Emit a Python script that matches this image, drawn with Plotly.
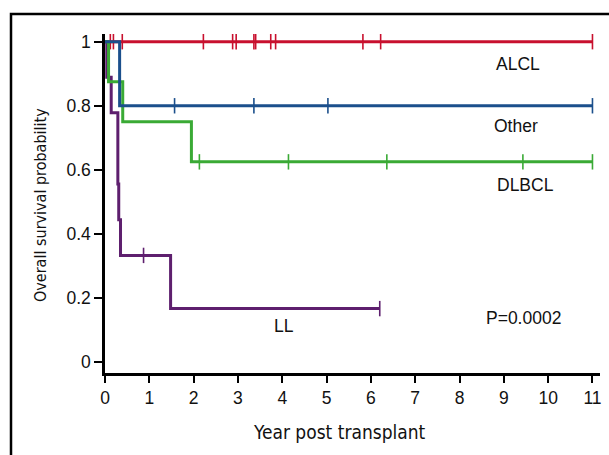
import plotly.graph_objects as go

# Kaplan-Meier step data (time in years, survival probability)
alcl_times = [0.0, 11.0]
alcl_surv = [1.0, 1.0]
alcl_censor = [0.12, 0.19, 0.39, 2.22, 2.88, 2.96, 3.36, 3.40, 3.74, 3.85, 5.82, 6.22, 11.0]

other_times = [0.0, 0.33, 11.0]
other_surv = [1.0, 0.8, 0.8]
other_censor = [1.57, 3.36, 5.03, 11.0]

dlbcl_times = [0.0, 0.08, 0.40, 1.95, 11.0]
dlbcl_surv = [1.0, 0.875, 0.75, 0.625, 0.625]
dlbcl_censor = [2.13, 4.14, 6.36, 9.43, 11.0]

ll_times = [0.0, 0.04, 0.14, 0.29, 0.31, 0.35, 1.48, 6.2]
ll_surv = [1.0, 0.889, 0.778, 0.556, 0.444, 0.333, 0.167, 0.167]
ll_censor = [0.87, 6.2]

x_ticks = list(range(0, 12))
y_ticks = [0, 0.2, 0.4, 0.6, 0.8, 1]
y_tick_labels = ["0", "0.2", "0.4", "0.6", "0.8", "1"]

labels = ["ALCL", "Other", "DLBCL", "LL"]
label_x = [9.32, 9.27, 9.50, 4.05]
label_y = [0.93, 0.737, 0.552, 0.112]

p_text = "P=0.0002"
x_title = "Year post transplant"
y_title = "Overall survival probability"

colors = {"ALCL": "#c8102e", "Other": "#1b4f8c", "DLBCL": "#3aaa35", "LL": "#5e1f6e"}


def step_value(times, surv, t):
    v = surv[0]
    for ti, si in zip(times, surv):
        if ti <= t:
            v = si
    return v


series = [
    ("ALCL", alcl_times, alcl_surv, alcl_censor),
    ("LL", ll_times, ll_surv, ll_censor),
    ("DLBCL", dlbcl_times, dlbcl_surv, dlbcl_censor),
    ("Other", other_times, other_surv, other_censor),
]

W, H = 609, 455
ML, MR, MT, MB = 105, 9, 34, 82
plot_w = W - ML - MR
plot_h = H - MT - MB

fig = go.Figure()
for name, t, s, c in series:
    col = colors[name]
    fig.add_trace(go.Scatter(x=t, y=s, mode="lines", line=dict(color=col, width=3, shape="hv"),
                             showlegend=False, hoverinfo="skip"))
    fig.add_trace(go.Scatter(x=c, y=[step_value(t, s, ci) for ci in c], mode="markers",
                             marker=dict(symbol="line-ns", size=11, line=dict(color=col, width=1.6)),
                             showlegend=False, hoverinfo="skip"))

txt_font = dict(family="Liberation Sans, Arial", size=17.5, color="#111")
cond = "DejaVu Sans Condensed, Liberation Sans Narrow, Arial Narrow"

annos = []
for lab, lx, ly in zip(labels, label_x, label_y):
    annos.append(dict(x=lx, y=ly, text=lab, showarrow=False, xref="x", yref="y", font=txt_font))
annos.append(dict(x=9.45, y=0.137, text=p_text, showarrow=False, xref="x", yref="y", font=txt_font))
# axis titles placed in paper coordinates (pixel targets converted)
annos.append(dict(x=(339 - ML) / plot_w, y=(H - MB - 432) / plot_h, xref="paper", yref="paper",
                  xanchor="center", yanchor="middle",
                  text=x_title, showarrow=False, font=dict(family=cond, size=19, color="#111")))
annos.append(dict(x=(40 - ML) / plot_w, y=(H - MB - 205) / plot_h, xref="paper", yref="paper",
                  xanchor="center", yanchor="middle",
                  text=y_title, showarrow=False, textangle=-90,
                  font=dict(family=cond, size=16, color="#111")))

fig.update_layout(
    width=W, height=H,
    margin=dict(l=ML, r=MR, t=MT, b=MB, autoexpand=False),
    paper_bgcolor="white", plot_bgcolor="white",
    annotations=annos,
    xaxis=dict(range=[0, 11.17], tickvals=x_ticks, ticks="outside", ticklen=7, tickwidth=2,
               tickcolor="black", showline=True, linecolor="black", linewidth=2.5,
               showgrid=False, zeroline=False, automargin=False,
               tickfont=dict(family="Liberation Sans, Arial", size=17.5, color="#111")),
    yaxis=dict(range=[-0.034, 1.024], tickvals=y_ticks, ticktext=y_tick_labels, ticks="outside",
               ticklen=8, tickwidth=2, tickcolor="black", showline=True, linecolor="black",
               linewidth=2.5, showgrid=False, zeroline=False, automargin=False,
               tickfont=dict(family="Liberation Sans, Arial", size=17.5, color="#111")),
    shapes=[dict(type="rect", xref="paper", yref="paper",
                 x0=(11 - ML) / plot_w, x1=1.2, y0=-0.4, y1=(H - MB - 14) / plot_h,
                 line=dict(color="black", width=2.5), fillcolor="rgba(0,0,0,0)", layer="below")],
)

fig.write_html("out.html", config={"displayModeBar": False},
               post_script="document.body.style.margin='0';document.body.style.overflow='hidden';")
